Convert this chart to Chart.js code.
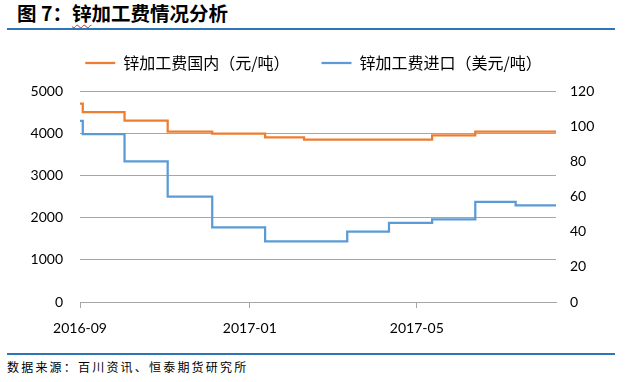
<!DOCTYPE html>
<html>
<head>
<meta charset="utf-8">
<script src="https://cdn.jsdelivr.net/npm/chart.js@4.4.1/dist/chart.umd.min.js"></script>
<style>
  body { margin: 0; width: 632px; height: 382px; background: #fff; position: relative; overflow: hidden; }
  #title { position: absolute; left: 17px; top: 3px; font: bold 19.5px/1 "Noto Sans CJK SC", sans-serif; color: #000; white-space: nowrap; }
  #title .wavy { text-decoration: underline wavy #e02020; text-underline-offset: 3px; text-decoration-thickness: 1px; }
  .rule { position: absolute; left: 7px; width: 608px; height: 2px; background: #2e75b6; }
  #source { position: absolute; left: 7px; top: 360px; font: 12px/1.2 "Noto Sans CJK SC", sans-serif; letter-spacing: 2.2px; color: #000; white-space: nowrap; }
  #wrap { position: absolute; left: 0; top: 15px; width: 632px; height: 335px; }
</style>
</head>
<body>
<div id="title">图 7：<span class="wavy">锌</span>加工费情况分析</div>
<div class="rule" style="top:28px"></div>
<div id="wrap"><canvas id="zincChart"></canvas></div>
<div class="rule" style="top:353px"></div>
<div id="source">数据来源：百川资讯、恒泰期货研究所</div>

<script>
// change points of the step series (date the new value starts)
const domesticDates = ['2016-09-01', '2016-09-03', '2016-10-03', '2016-11-03', '2016-12-05', '2017-01-12', '2017-02-09', '2017-05-12', '2017-06-12', '2017-08-09'];
const domesticFee = [4700, 4500, 4300, 4040, 3990, 3900, 3850, 3950, 4040, 4040];

const importDates = ['2016-09-01', '2016-09-03', '2016-10-03', '2016-11-03', '2016-12-05', '2017-01-12', '2017-03-12', '2017-04-11', '2017-05-12', '2017-06-12', '2017-07-11', '2017-08-09'];
const importFee = [103, 95.5, 80, 60, 42.5, 34.5, 40, 45, 47, 57, 55, 55];

const xTickDates = ['2016-09-01', '2017-01-01', '2017-05-01'];
const xTickLabels = ['2016-09', '2017-01', '2017-05'];

const startDay = Date.parse('2016-09-01');
const dayOf = s => (Date.parse(s) - startDay) / 86400000;

const toPoints = (dates, values) => dates.map((d, i) => ({ x: dayOf(d), y: values[i] }));

const tickFont = { family: 'Lato', size: 14 };
const gridGray = '#a6a6a6';

// extra space between the legend and the plot
const legendGap = {
  id: 'legendGap',
  beforeInit(chart) {
    const fit = chart.legend.fit;
    chart.legend.fit = function () {
      fit.bind(chart.legend)();
      this.height += 10;
    };
  }
};

const ctx = document.getElementById('zincChart').getContext('2d');
new Chart(ctx, {
  type: 'line',
  data: {
    datasets: [{
      label: '锌加工费国内（元/吨）',
      data: toPoints(domesticDates, domesticFee),
      borderColor: '#ed7d31',
      backgroundColor: '#ed7d31',
      borderWidth: 2.25,
      pointRadius: 0,
      pointStyle: 'line',
      stepped: true,
      yAxisID: 'y'
    }, {
      label: '锌加工费进口（美元/吨）',
      data: toPoints(importDates, importFee),
      borderColor: '#5b9bd5',
      backgroundColor: '#5b9bd5',
      borderWidth: 2.25,
      pointRadius: 0,
      pointStyle: 'line',
      stepped: true,
      yAxisID: 'y1'
    }]
  },
  options: {
    responsive: true,
    maintainAspectRatio: false,
    animation: false,
    layout: { padding: { left: 0, right: 5, top: 8, bottom: 0 } },
    plugins: {
      legend: {
        position: 'top',
        labels: {
          usePointStyle: true,
          pointStyle: 'line',
          pointStyleWidth: 30,
          padding: 32,
          color: '#000',
          font: { family: '"Noto Sans CJK SC"', size: 16 }
        }
      },
      tooltip: { enabled: false }
    },
    scales: {
      x: {
        type: 'linear',
        min: 0,
        max: dayOf(domesticDates[domesticDates.length - 1]),
        afterBuildTicks: scale => {
          scale.ticks = xTickDates.map(d => ({ value: dayOf(d) }));
        },
        afterFit: scale => { scale.height = 48; },
        ticks: {
          color: '#000',
          font: tickFont,
          padding: 12,
          maxRotation: 0,
          callback: v => xTickLabels[xTickDates.findIndex(d => dayOf(d) === v)]
        },
        grid: { drawOnChartArea: false, color: gridGray, tickLength: 6 },
        border: { color: gridGray }
      },
      y: {
        position: 'left',
        min: 0,
        max: 5000,
        afterFit: scale => { scale.width = 80; },
        ticks: { stepSize: 1000, color: '#000', font: tickFont, padding: 17, callback: v => String(v) },
        grid: { color: gridGray, drawTicks: false },
        border: { display: false }
      },
      y1: {
        position: 'right',
        min: 0,
        max: 120,
        afterFit: scale => { scale.width = 71; },
        ticks: { stepSize: 20, color: '#000', font: tickFont, padding: 14, callback: v => String(v) },
        grid: { display: false, drawTicks: false },
        border: { display: false }
      }
    }
  },
  plugins: [legendGap]
});
</script>
</body>
</html>
